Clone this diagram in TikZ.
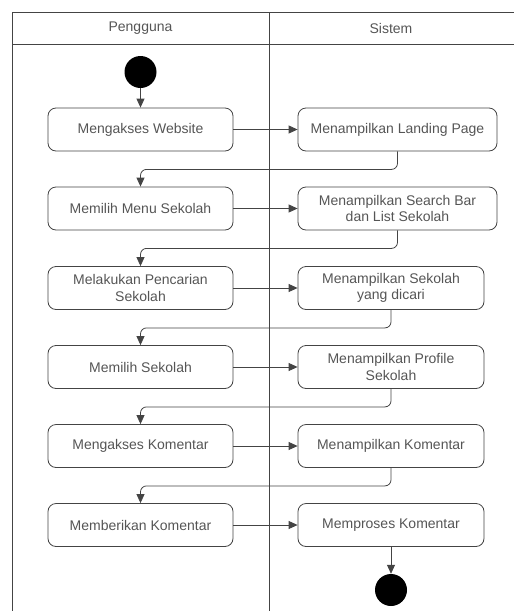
\documentclass[tikz,border=0pt]{standalone}
\usepackage{fontspec}
\setmainfont{Liberation Sans}
\usetikzlibrary{arrows.meta}
\definecolor{txtgray}{HTML}{555555}
\definecolor{linegray}{HTML}{444444}
\tikzset{
  lane/.style={draw=linegray, line width=0.8pt},
  lanehead/.style={text=txtgray, font=\fontsize{14}{16.5}\selectfont},
  activity/.style={draw=linegray, line width=0.8pt, rounded corners=8pt, minimum height=43pt,
    text=txtgray, align=center, font=\fontsize{14}{16.5}\selectfont, inner sep=2pt},
  flow/.style={draw=linegray, line width=0.8pt, -{Triangle[length=9pt,width=8pt]}, rounded corners=6pt},
  startstop/.style={circle, fill=black, minimum size=32pt, inner sep=0pt},
}
\begin{document}
\begin{tikzpicture}[x=1pt,y=-1pt]
        \useasboundingbox (0,0) rectangle (514,611);
        % swimlanes
        \draw[lane] (12,611) -- (12,12) -- (514,12);
        \draw[lane] (12,44) -- (514,44);
        \draw[lane] (269,12) -- (269,611);
        \node[lanehead] (pengguna) at (140.5,28) {Pengguna};
        \node[lanehead] (sistem) at (391,28) {Sistem};

        % pengguna
        \node[startstop] (mulai) at (140.5,72) {};
        \node[activity, minimum width=185pt] (akses) at (140.5,129.5) {Mengakses Website};
        \node[activity, minimum width=185pt] (menu) at (140.5,208.5) {Memilih Menu Sekolah};
        \node[activity, minimum width=185pt] (cari) at (140.5,288) {Melakukan Pencarian\\Sekolah};
        \node[activity, minimum width=185pt] (pilih) at (140.5,367) {Memilih Sekolah};
        \node[activity, minimum width=185pt] (aksesko) at (140.5,446) {Mengakses Komentar};
        \node[activity, minimum width=185pt] (beriko) at (140.5,525) {Memberikan Komentar};

        % sistem
        \node[activity, minimum width=199pt] (landing) at (397.5,129.5) {Menampilkan Landing Page};
        \node[activity, minimum width=199pt] (search) at (397.5,208.5) {Menampilkan Search Bar\\dan List Sekolah};
        \node[activity, minimum width=186pt] (hasil) at (391,288) {Menampilkan Sekolah\\yang dicari};
        \node[activity, minimum width=186pt] (profil) at (391,367) {Menampilkan Profile\\Sekolah};
        \node[activity, minimum width=186pt] (tampilko) at (391,446) {Menampilkan Komentar};
        \node[activity, minimum width=186pt] (prosesko) at (391,525) {Memproses Komentar};
        \node[startstop] (selesai) at (391,590) {};

        % alur
        \draw[flow] (mulai) -- (akses);
        \draw[flow] (akses) -- (landing);
        \draw[flow] (landing.south) -- ++(0,18) -| (menu.north);
        \draw[flow] (menu) -- (search);
        \draw[flow] (search.south) -- ++(0,18) -| (cari.north);
        \draw[flow] (cari) -- (hasil);
        \draw[flow] (hasil.south) -- ++(0,18) -| (pilih.north);
        \draw[flow] (pilih) -- (profil);
        \draw[flow] (profil.south) -- ++(0,18) -| (aksesko.north);
        \draw[flow] (aksesko) -- (tampilko);
        \draw[flow] (tampilko.south) -- ++(0,18) -| (beriko.north);
        \draw[flow] (beriko) -- (prosesko);
        \draw[flow] (prosesko) -- (selesai);
\end{tikzpicture}
\end{document}
